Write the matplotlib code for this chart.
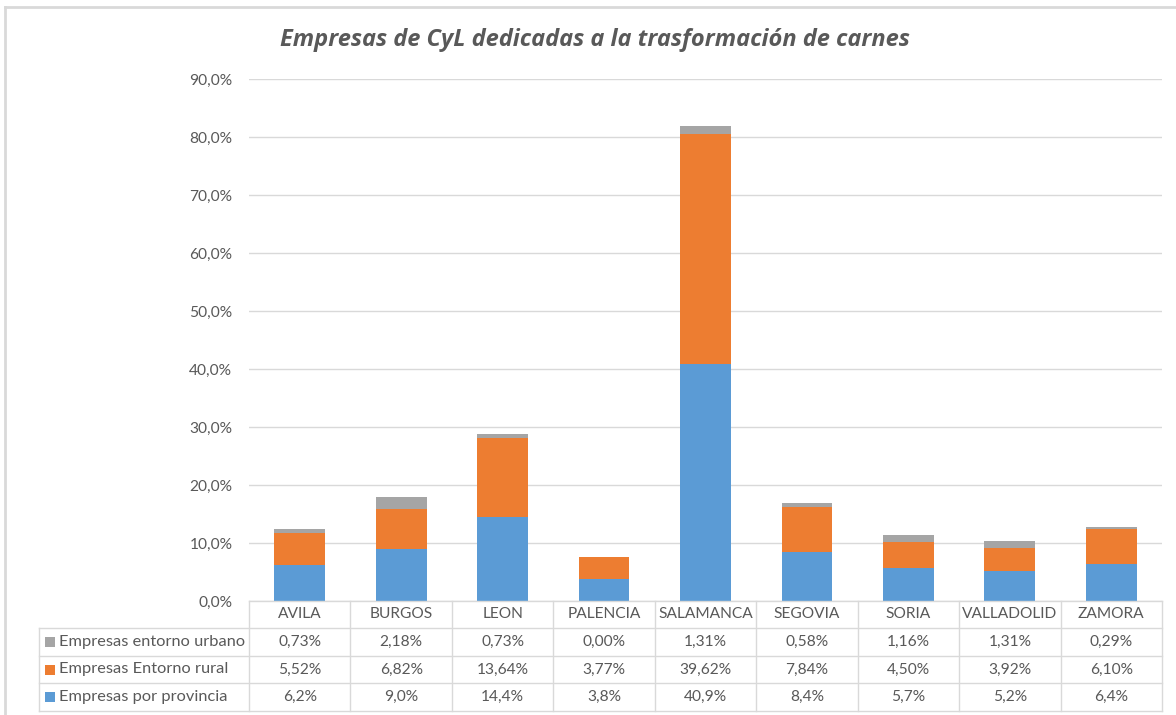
import matplotlib
matplotlib.use("Agg")
import matplotlib.pyplot as plt
import matplotlib.transforms as mtransforms
from matplotlib.patches import Rectangle
from matplotlib.lines import Line2D

categories = ["AVILA", "BURGOS", "LEON", "PALENCIA", "SALAMANCA", "SEGOVIA", "SORIA", "VALLADOLID", "ZAMORA"]
provincia = [6.2, 9.0, 14.4, 3.8, 40.9, 8.4, 5.7, 5.2, 6.4]
rural = [5.52, 6.82, 13.64, 3.77, 39.62, 7.84, 4.50, 3.92, 6.10]
urbano = [0.73, 2.18, 0.73, 0.00, 1.31, 0.58, 1.16, 1.31, 0.29]
series_names = ["Empresas entorno urbano", "Empresas Entorno rural", "Empresas por provincia"]
yticks = [0, 10, 20, 30, 40, 50, 60, 70, 80, 90]

C_BLUE = "#5B9BD5"
C_ORANGE = "#ED7D31"
C_GRAY = "#A5A5A5"
TXT = "#595959"
GRID = "#D9D9D9"
FONT = ["Lato", "DejaVu Sans"]
plt.rcParams["font.family"] = FONT
FS = 11.2
FST = 11.8

W, H = 1176, 715
fig = plt.figure(figsize=(W / 100, H / 100), dpi=100)

def fy(py):
    return 1 - py / H

def fx(px):
    return px / W

ax_l, ax_r, ax_t, ax_b = 249, 1162, 79, 601
ax = fig.add_axes([fx(ax_l), fy(ax_b), fx(ax_r) - fx(ax_l), fy(ax_t) - fy(ax_b)])
x = list(range(len(categories)))
bw = 0.5
ax.bar(x, provincia, bw, color=C_BLUE, zorder=3)
bot2 = [p for p in provincia]
ax.bar(x, rural, bw, bottom=bot2, color=C_ORANGE, zorder=3)
bot3 = [p + r for p, r in zip(provincia, rural)]
ax.bar(x, urbano, bw, bottom=bot3, color=C_GRAY, zorder=3)

ax.set_xlim(-0.5, len(categories) - 0.5)
ax.set_ylim(0, 90)
ax.set_yticks(yticks)
ax.set_yticklabels([f"{v:.1f}%".replace(".", ",") for v in yticks])
ax.tick_params(axis="y", length=0, pad=12, labelsize=FS, labelcolor=TXT)
ax.set_xticks([])
ax.yaxis.grid(True, color=GRID, linewidth=1)
ax.set_axisbelow(True)
for s in ax.spines.values():
    s.set_visible(False)

# Title
fig.text(fx(595), fy(40), "Empresas de CyL dedicadas a la trasformación de carnes",
         ha="center", va="center", fontsize=17, fontweight="bold", style="italic", color=TXT,
         family=["Open Sans", "DejaVu Sans"])

# Figure border (top and left)
fig.add_artist(Line2D([fx(5), fx(5)], [fy(7), 0], transform=fig.transFigure, color=GRID, lw=2))
fig.add_artist(Line2D([fx(5), 1], [fy(7), fy(7)], transform=fig.transFigure, color=GRID, lw=2))

# Data table
tr = mtransforms.blended_transform_factory(ax.transData, fig.transFigure)
tbl_left = 39
row_y = [601, 628, 656, 683, 711]
lkw = dict(color=GRID, lw=1, clip_on=False)
for i in range(len(categories) + 1):
    xv = i - 0.5
    ax.add_line(Line2D([xv, xv], [fy(row_y[0]), fy(row_y[-1])], transform=tr, **lkw))
fig.add_artist(Line2D([fx(tbl_left), fx(tbl_left)], [fy(row_y[1]), fy(row_y[-1])],
                      transform=fig.transFigure, color=GRID, lw=1))
fig.add_artist(Line2D([fx(ax_l), fx(ax_r)], [fy(row_y[0]), fy(row_y[0])],
                      transform=fig.transFigure, color=GRID, lw=1))
for yy in row_y[1:]:
    fig.add_artist(Line2D([fx(tbl_left), fx(ax_r)], [fy(yy), fy(yy)],
                          transform=fig.transFigure, color=GRID, lw=1))

hy = fy((row_y[0] + row_y[1]) / 2)
for i, c in enumerate(categories):
    ax.text(i, hy, c, transform=tr, ha="center", va="center", fontsize=FS, color=TXT, clip_on=False)

rows = [
    (series_names[0], C_GRAY, [f"{v:.2f}%".replace(".", ",") for v in urbano]),
    (series_names[1], C_ORANGE, [f"{v:.2f}%".replace(".", ",") for v in rural]),
    (series_names[2], C_BLUE, [f"{v:.1f}%".replace(".", ",") for v in provincia]),
]
for r, (name, col, labels) in enumerate(rows):
    yc = (row_y[r + 1] + row_y[r + 2]) / 2
    fig.add_artist(Rectangle((fx(45), fy(yc + 5)), fx(10), fy(yc - 5) - fy(yc + 5),
                             transform=fig.transFigure, color=col, lw=0))
    fig.text(fx(59), fy(yc), name, ha="left", va="center", fontsize=FST, color=TXT)
    for i, lab in enumerate(labels):
        ax.text(i, fy(yc), lab, transform=tr, ha="center", va="center", fontsize=FS,
                color=TXT, clip_on=False)

fig.savefig("out.png", dpi=100, facecolor="white")
